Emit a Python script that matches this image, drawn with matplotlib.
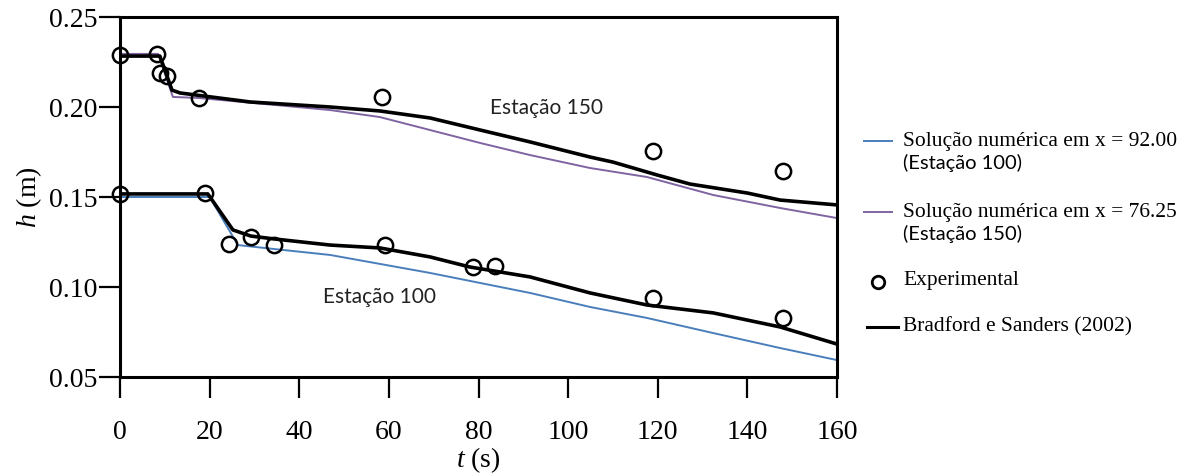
import numpy as np
import matplotlib
matplotlib.use("Agg")
import matplotlib.pyplot as plt
from matplotlib.lines import Line2D

plt.rcParams['font.family'] = 'Liberation Serif'
plt.rcParams['mathtext.fontset'] = 'custom'
plt.rcParams['mathtext.rm'] = 'Liberation Serif'
plt.rcParams['mathtext.it'] = 'Liberation Serif:italic'

# dados experimentais (circulos)
t_exp_150 = [0, 8.3, 9.0, 10.5, 17.6, 58.5, 119.0, 148.0]
h_exp_150 = [0.229, 0.2295, 0.219, 0.217, 0.205, 0.2056, 0.1756, 0.1644]
t_exp_100 = [0, 19.0, 24.3, 29.2, 34.4, 59.2, 78.8, 83.7, 119.0, 148.0]
h_exp_100 = [0.1517, 0.152, 0.124, 0.128, 0.1233, 0.1233, 0.111, 0.1117, 0.094, 0.0828]

# Bradford e Sanders (2002)
t_bs_150 = [0, 8.9, 11.6, 13.4, 29.0, 46.9, 58.0, 69.2, 80.4, 91.5, 104.9, 110.0, 119.9, 127.2, 140.0, 147.3, 160]
h_bs_150 = [0.2283, 0.2283, 0.2094, 0.2078, 0.2028, 0.2000, 0.1978, 0.1939, 0.1872, 0.1806, 0.1722, 0.1694, 0.1622, 0.1572, 0.1522, 0.1483, 0.1456]
t_bs_100 = [0, 19.6, 25.2, 29.2, 34.4, 46.9, 58.0, 69.2, 78.1, 91.5, 104.9, 117.6, 132.4, 147.3, 160]
h_bs_100 = [0.1517, 0.1517, 0.1317, 0.1283, 0.1267, 0.1233, 0.1217, 0.1167, 0.1111, 0.1056, 0.0967, 0.0900, 0.0856, 0.0778, 0.0683]

# solucao numerica
t_num_150 = [0, 8.5, 11.8, 17.6, 46.9, 58.0, 69.2, 80.4, 91.5, 104.9, 117.6, 132.4, 147.3, 160]
h_num_150 = [0.2295, 0.2295, 0.2056, 0.2050, 0.1983, 0.1944, 0.1872, 0.1800, 0.1733, 0.1661, 0.1611, 0.1511, 0.1439, 0.1383]
t_num_100 = [0, 20.0, 26.3, 34.4, 46.9, 69.2, 91.5, 104.9, 117.6, 132.4, 147.3, 160]
h_num_100 = [0.150, 0.150, 0.1233, 0.1211, 0.1178, 0.1078, 0.0967, 0.0889, 0.0828, 0.0744, 0.0661, 0.0594]

cor_azul = '#4a7ebb'
cor_roxo = '#8064a2'

W, H = 1179, 473
fig = plt.figure(figsize=(W/100, H/100), dpi=100)
ax = fig.add_axes([120/W, 1-377/H, (837-120)/W, (377-17)/H])

ax.plot(t_num_100, h_num_100, color=cor_azul, lw=1.4, zorder=2)
ax.plot(t_num_150, h_num_150, color=cor_roxo, lw=1.4, zorder=2)
ax.plot(t_bs_150, h_bs_150, color='black', lw=2.6, zorder=3)
ax.plot(t_bs_100, h_bs_100, color='black', lw=2.6, zorder=3)
ax.plot(t_exp_150, h_exp_150, 'o', ms=11, mfc='none', mec='black', mew=1.8, zorder=4, clip_on=False)
ax.plot(t_exp_100, h_exp_100, 'o', ms=11, mfc='none', mec='black', mew=1.8, zorder=4, clip_on=False)

ax.text(82.6, 0.1994, 'Estação 150', fontsize=15, family='Lato', va='center', ha='left', color='#222222')
ax.text(45.3, 0.0944, 'Estação 100', fontsize=15, family='Lato', va='center', ha='left', color='#222222')

ax.set_xlim(0, 160)
ax.set_ylim(0.05, 0.25)
ax.set_xticks(np.arange(0, 161, 20))
ax.set_yticks([0.05, 0.10, 0.15, 0.20, 0.25])
ax.set_yticklabels(['0.05', '0.10', '0.15', '0.20', '0.25'])
ax.tick_params(axis='both', direction='out', length=15, width=1.6, labelsize=20)
ax.tick_params(axis='x', pad=16)
ax.tick_params(axis='y', pad=1)
for s in ax.spines.values():
    s.set_linewidth(2.2)

ax.set_xlabel(r'$t$ (s)', fontsize=20, labelpad=0)
ax.set_ylabel(r'$h$ (m)', fontsize=20, labelpad=4)

# legenda desenhada a mao
def fx(px):
    return px / W

def fy(py):
    return 1 - py / H

leg = [
    (cor_azul, 1.4, 141, 'Solução numérica em x = 92.00', '(Estação 100)'),
    (cor_roxo, 1.4, 212, 'Solução numérica em x = 76.25', '(Estação 150)'),
]
for cor, lw, py, l1, l2 in leg:
    fig.add_artist(Line2D([fx(864), fx(892)], [fy(py), fy(py)], color=cor, lw=lw, transform=fig.transFigure))
    fig.text(fx(903), fy(py), l1, fontsize=15.5, va='center', ha='left')
    fig.text(fx(903), fy(py + 22), l2, fontsize=14.5, family='Lato', va='center', ha='left')

fig.add_artist(Line2D([fx(878)], [fy(282)], marker='o', ms=9, mfc='none', mec='black', mew=2, transform=fig.transFigure))
fig.text(fx(903), fy(281), 'Experimental', fontsize=15.5, va='center', ha='left')
fig.add_artist(Line2D([fx(867), fx(898)], [fy(327), fy(327)], color='black', lw=2.2, transform=fig.transFigure))
fig.text(fx(903), fy(327), 'Bradford e Sanders (2002)', fontsize=15.5, va='center', ha='left')

fig.savefig('out.png', dpi=100)
